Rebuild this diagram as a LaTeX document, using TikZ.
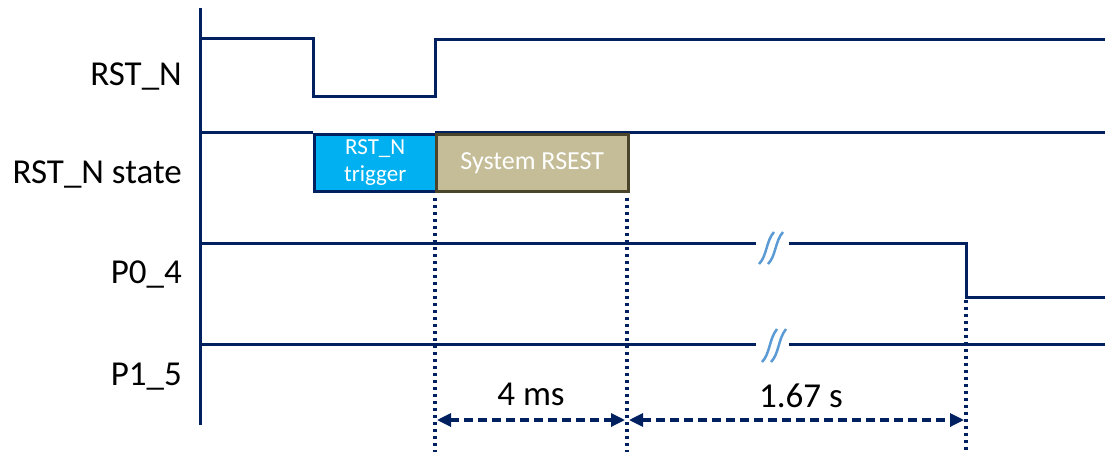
\documentclass[tikz,border=0pt]{standalone}
\usepackage{fontspec}
\setmainfont{Carlito}
\usetikzlibrary{arrows.meta}
\definecolor{navy}{HTML}{002060}
\definecolor{cyanfill}{HTML}{00B0F0}
\definecolor{tanfill}{HTML}{C4BD97}
\definecolor{olivedark}{HTML}{4A452A}
\definecolor{wavyblue}{HTML}{5B9BD5}
\begin{document}
\begin{tikzpicture}[x=1pt,y=-1pt,
  sig/.style={draw=navy,line width=3pt},
  siglabel/.style={anchor=base east,font=\fontsize{35}{40}\selectfont,inner sep=0pt},
  dimlabel/.style={anchor=base,font=\fontsize{35}{40}\selectfont,inner sep=0pt},
  guide/.style={draw=navy,line width=3.2pt,dash pattern=on 3pt off 4pt},
  dimarrow/.style={draw=navy,line width=3.2pt,dash pattern=on 9pt off 5pt,
    {Triangle[length=14pt,width=13pt]}-{Triangle[length=14pt,width=13pt]}},
  brk/.style={draw=wavyblue,line width=2.5pt},
  statebox/.style={anchor=north west,inner sep=0pt,line width=2.5pt,text=white,align=center}]
\useasboundingbox[fill=white] (0,0) rectangle (1105,456);
% axis
\coordinate (axtop) at (200,8);
\coordinate (axbot) at (200,425);
\draw[sig] (axtop) -- (axbot);
% labels
\node[siglabel] (lrst) at (182,85) {RST\_N};
\node[siglabel] (lstate) at (182,183) {RST\_N state};
\node[siglabel] (lp0) at (182,283) {P0\_4};
\node[siglabel] (lp1) at (182,385) {P1\_5};
% RST_N
\draw[sig] (200,38) -- (313,38) -- (313,96) -- (435,96) -- (435,39) -- (1105,39);
% RST_N state
\draw[sig] (200,132) -- (313,132);
\draw[sig] (435,132) -- (1105,132);
\node[statebox,draw=navy,fill=cyanfill,minimum width=122pt,minimum height=57pt,
  font=\fontsize{23}{27}\selectfont] (trig) at (313,133) {RST\_N\\trigger};
\node[statebox,draw=olivedark,fill=tanfill,minimum width=192pt,minimum height=57pt,
  font=\fontsize{26}{30}\selectfont] (sysr) at (435,133) {System RSEST};
% P0_4
\draw[sig] (200,243) -- (756,243);
\draw[sig] (789,243) -- (966,243) -- (966,297) -- (1105,297);
\draw[brk] (759,264) .. controls (767,256) and (766,241) .. (774,232);
\draw[brk] (768,264) .. controls (776,256) and (775,241) .. (783,232);
% P1_5
\draw[sig] (200,344) -- (756,344);
\draw[sig] (789,344) -- (1105,344);
\draw[brk] (762,362) .. controls (770,354) and (769,339) .. (777,329);
\draw[brk] (771,362) .. controls (779,354) and (778,339) .. (786,329);
% guides
\coordinate (g1t) at (435,198); \coordinate (g1b) at (435,452);
\coordinate (g2t) at (627,198); \coordinate (g2b) at (627,452);
\coordinate (g3t) at (966,300); \coordinate (g3b) at (966,452);
\draw[guide] (g1t) -- (g1b);
\draw[guide] (g2t) -- (g2b);
\draw[guide] (g3t) -- (g3b);
% dimension arrows
\coordinate (a1) at (437,420); \coordinate (a2) at (625,420);
\coordinate (a3) at (629,420); \coordinate (a4) at (964,420);
\draw[dimarrow] (a1) -- (a2);
\draw[dimarrow] (a3) -- (a4);
\node[dimlabel] (t4ms) at (531,405) {4 ms};
\node[dimlabel] (t167) at (801,407) {1.67 s};
\end{tikzpicture}
\end{document}
